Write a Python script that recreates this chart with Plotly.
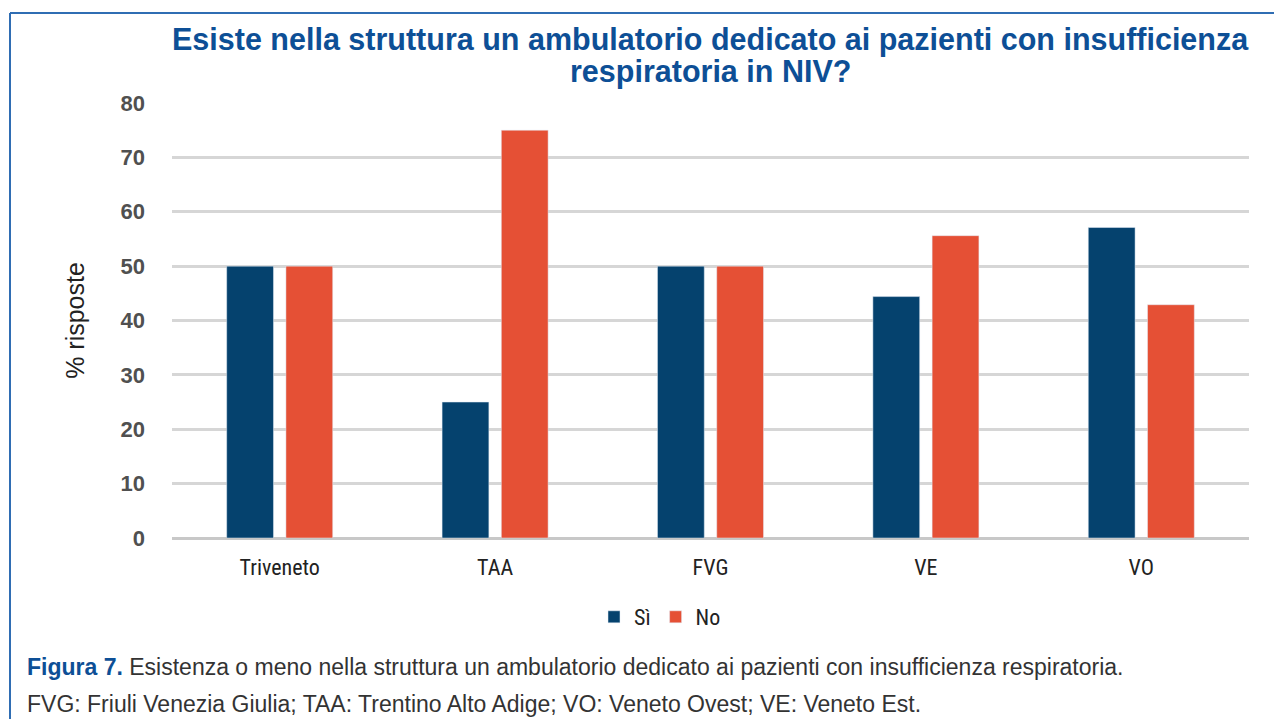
import plotly.graph_objects as go

categories = ["Triveneto", "TAA", "FVG", "VE", "VO"]
si_values = [50, 25, 50, 44.4, 57.1]
no_values = [50, 75, 50, 55.6, 42.9]
y_ticks = [0, 10, 20, 30, 40, 50, 60, 70, 80]

SI_COLOR = "#05426e"
NO_COLOR = "#e55035"
TITLE_BLUE = "#0d4f96"
NARROW = "Liberation Sans Narrow, Arial Narrow, Roboto Condensed, Roboto, sans-serif"
SANS = "Liberation Sans, Arial, Helvetica, sans-serif"

# page coordinates of the plot area (page has an 8px body margin)
OFF = 8
PL, PR, PT, PB = 172, 1249, 103, 538
PW, PH = PR - PL, PB - PT
W, H = 1282 - OFF, 719 - OFF


def px(x):
    return (x - PL) / PW


def py(y):
    return (PB - y) / PH


fig = go.Figure()
fig.add_trace(go.Bar(x=categories, y=si_values, name="Sì", marker_color=SI_COLOR))
fig.add_trace(go.Bar(x=categories, y=no_values, name="No", marker_color=NO_COLOR))

fig.update_layout(
    width=W, height=H,
    margin=dict(l=PL - OFF, r=W - (PR - OFF), t=PT - OFF, b=H - (PB - OFF), autoexpand=False),
    paper_bgcolor="white", plot_bgcolor="white",
    barmode="group", bargap=0.45, bargroupgap=0.21,
    showlegend=True,
    legend=dict(
        orientation="h", x=px(660), xanchor="center", y=py(617), yanchor="middle",
        font=dict(family=NARROW, size=22, color="#222"),
        itemwidth=30, traceorder="normal",
    ),
    xaxis=dict(
        tickfont=dict(family=NARROW, size=22, color="#222"),
        showgrid=False, showline=False, ticks="", ticklen=0,
        ticklabelstandoff=14,
    ),
    yaxis=dict(
        range=[0, 80], tickvals=y_ticks,
        tickfont=dict(family=SANS, size=22, color="#505050", weight="bold"),
        gridcolor="#d6d6d6", gridwidth=3,
        zeroline=True, zerolinecolor="#c8c8c8", zerolinewidth=3,
        ticks="", ticklabelstandoff=26,
        title=dict(text="% risposte", font=dict(family=SANS, size=25, color="#222"), standoff=28),
    ),
)

# title (two centered lines)
fig.add_annotation(text="Esiste nella struttura un ambulatorio dedicato ai pazienti con insufficienza",
                   xref="paper", yref="paper", x=px(710), y=py(40), xanchor="center", yanchor="middle",
                   showarrow=False, font=dict(family=SANS, size=30.5, color=TITLE_BLUE, weight="bold"))
fig.add_annotation(text="respiratoria in NIV?",
                   xref="paper", yref="paper", x=px(710), y=py(72), xanchor="center", yanchor="middle",
                   showarrow=False, font=dict(family=SANS, size=30.5, color=TITLE_BLUE, weight="bold"))

# frame (blue top and left border)
fig.add_shape(type="line", xref="paper", yref="paper",
              x0=px(10), x1=px(1290), y0=py(13), y1=py(13),
              line=dict(color="#2f6db3", width=2))
fig.add_shape(type="line", xref="paper", yref="paper",
              x0=px(10), x1=px(10), y0=py(13), y1=py(730),
              line=dict(color="#2f6db3", width=2))

# caption
fig.add_annotation(text="<b><span style='color:%s'>Figura 7.</span></b> Esistenza o meno nella struttura un ambulatorio dedicato ai pazienti con insufficienza respiratoria." % TITLE_BLUE,
                   xref="paper", yref="paper", x=px(25), y=py(667), xanchor="left", yanchor="middle",
                   align="left", showarrow=False, font=dict(family=SANS, size=23, color="#333"))
fig.add_annotation(text="FVG: Friuli Venezia Giulia; TAA: Trentino Alto Adige; VO: Veneto Ovest; VE: Veneto Est.",
                   xref="paper", yref="paper", x=px(25), y=py(704), xanchor="left", yanchor="middle",
                   align="left", showarrow=False, font=dict(family=SANS, size=23, color="#333"))

fig.write_html("out.html")
